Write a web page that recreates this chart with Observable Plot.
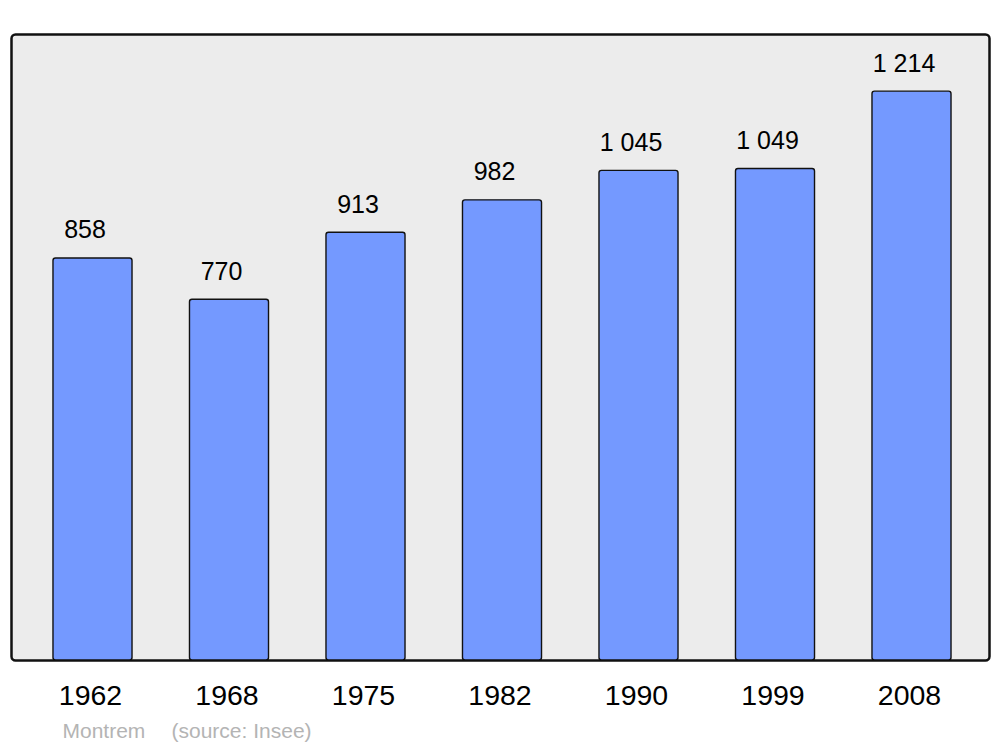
<!DOCTYPE html>
<html>
<head>
<meta charset="utf-8">
<script src="https://cdn.jsdelivr.net/npm/d3@7"></script>
<script src="https://cdn.jsdelivr.net/npm/@observablehq/plot@0.6"></script>
<style>
  html, body { margin: 0; padding: 0; background: #ffffff; }
  #chart svg { display: block; }
</style>
</head>
<body>
<div id="chart"></div>
<script>
const years = ["1962", "1968", "1975", "1982", "1990", "1999", "2008"];
const population = [858, 770, 913, 982, 1045, 1049, 1214];
const commune = "Montrem";
const source = "(source: Insee)";

const data = years.map((y, i) => ({year: y, pop: population[i]}));
const fr = d3.formatLocale({decimal: ",", thousands: " ", grouping: [3], currency: ["", " €"]});
const fmt = fr.format(",d");

const chart = Plot.plot({
  width: 1000,
  height: 747,
  marginLeft: 11,
  marginRight: 11,
  marginTop: 34,
  marginBottom: 87,
  style: {fontFamily: "'Liberation Sans', Arial, sans-serif", background: "#ffffff"},
  x: {type: "band", domain: years, range: [24.25, 979.75], paddingInner: 0.421, paddingOuter: 0.2105, round: false, axis: null},
  y: {domain: [0, 1336], axis: null},
  marks: [
    Plot.frame({fill: "#ececec", stroke: "#111111", strokeWidth: 2.5, rx: 4}),
    Plot.barY(data, {x: "year", y: "pop", fill: "#7499ff", stroke: "#111111", strokeWidth: 1.4, rx: 2.5}),
    Plot.text(data, {x: "year", y: "pop", text: d => fmt(d.pop), dy: -28, dx: -8, fontSize: 25, fill: "#000000"}),
    Plot.text(data, {x: "year", y: () => 0, text: "year", dy: 35, dx: -2.5, fontSize: 28.5, fill: "#000000"}),
    Plot.text([commune], {frameAnchor: "bottom-left", dx: 51, dy: 77, text: d => d, textAnchor: "start", fontSize: 21, fill: "#b4b4b4"}),
    Plot.text([source], {frameAnchor: "bottom-left", dx: 160, dy: 77, text: d => d, textAnchor: "start", fontSize: 21, fill: "#b4b4b4"})
  ]
});
document.getElementById("chart").appendChild(chart);
</script>
</body>
</html>
